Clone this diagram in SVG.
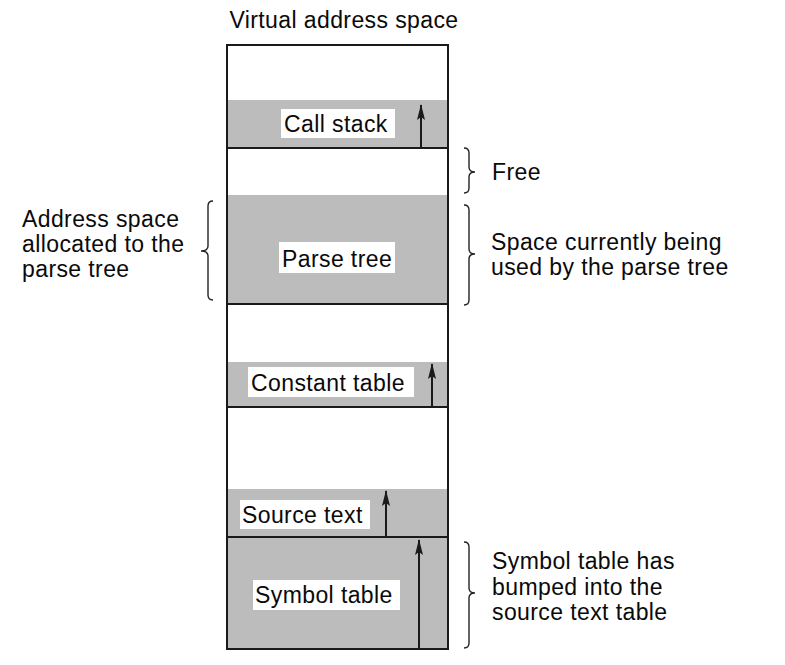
<svg xmlns="http://www.w3.org/2000/svg" width="785" height="665" viewBox="0 0 785 665">
<style>
text{font-family:"Liberation Sans",Arial,Helvetica,sans-serif;font-size:23px;letter-spacing:0.4px;fill:#0a0a0a}
.g{fill:#bcbcbc}
.w{fill:#fff}
.ln{stroke:#1a1a1a;stroke-width:2;fill:none}
.br{stroke:#222;stroke-width:1.4;fill:none}
.ar{stroke:#1a1a1a;stroke-width:2;fill:none;marker-end:url(#ah)}
</style>
<defs>
<marker id="ah" viewBox="0 0 16 8" refX="15" refY="4" markerWidth="16" markerHeight="8" markerUnits="userSpaceOnUse" orient="auto">
<path d="M0,0 L16,4 L0,8 L3,4 z" fill="#1a1a1a"/>
</marker>
</defs>
<rect width="785" height="665" fill="#fff"/>
<text x="344" y="28" text-anchor="middle">Virtual address space</text>
<g id="call-stack">
<rect class="g" x="227" y="100" width="221" height="48"/>
<rect class="w" x="281" y="109" width="114" height="29"/>
<text x="284" y="132">Call stack</text>
</g>
<g id="parse-tree">
<rect class="g" x="227" y="195" width="221" height="109"/>
<rect class="w" x="279" y="242" width="116" height="31"/>
<text x="282" y="267">Parse tree</text>
</g>
<g id="constant-table">
<rect class="g" x="227" y="362" width="221" height="45"/>
<rect class="w" x="248" y="367" width="166" height="30"/>
<text x="251" y="391">Constant table</text>
</g>
<g id="source-text">
<rect class="g" x="227" y="489" width="221" height="48"/>
<rect class="w" x="240" y="500" width="130" height="29"/>
<text x="242" y="523">Source text</text>
</g>
<g id="symbol-table">
<rect class="g" x="227" y="537" width="221" height="112"/>
<rect class="w" x="253" y="580" width="147" height="30"/>
<text x="255" y="603">Symbol table</text>
</g>
<g id="frame">
<rect class="ln" x="227" y="45" width="221" height="604"/>
<line class="ln" x1="227" y1="148" x2="448" y2="148"/>
<line class="ln" x1="227" y1="304" x2="448" y2="304"/>
<line class="ln" x1="227" y1="407" x2="448" y2="407"/>
<line class="ln" x1="227" y1="537" x2="448" y2="537"/>
</g>
<g id="connectors">
<line class="ar" x1="421" y1="148" x2="421" y2="105"/>
<line class="ar" x1="432" y1="407" x2="432" y2="364"/>
<line class="ar" x1="386" y1="537" x2="386" y2="491"/>
<line class="ar" x1="419" y1="648" x2="419" y2="540"/>
</g>
<g id="free-label">
<path class="br" d="M464,148 Q469,148 469,153 L469,167 Q469,172 475,172 Q469,172 469,177 L469,188 Q469,193 464,193"/>
<text x="492" y="180">Free</text>
</g>
<g id="used-label">
<path class="br" d="M464,205 Q469,205 469,210 L469,249 Q469,254 475,254 Q469,254 469,259 L469,300 Q469,305 464,305"/>
<text x="491" y="250">Space currently being</text>
<text x="491" y="275">used by the parse tree</text>
</g>
<g id="allocated-label">
<path class="br" d="M213,201 Q208,201 208,206 L208,246 Q208,251 201,251 Q208,251 208,256 L208,295 Q208,300 213,300"/>
<text x="22" y="227">Address space</text>
<text x="22" y="252">allocated to the</text>
<text x="22" y="277">parse tree</text>
</g>
<g id="bumped-label">
<path class="br" d="M464,542 Q469,542 469,547 L469,588 Q469,593 475,593 Q469,593 469,598 L469,643 Q469,648 464,648"/>
<text x="492" y="569">Symbol table has</text>
<text x="492" y="595">bumped into the</text>
<text x="492" y="620">source text table</text>
</g>
</svg>
